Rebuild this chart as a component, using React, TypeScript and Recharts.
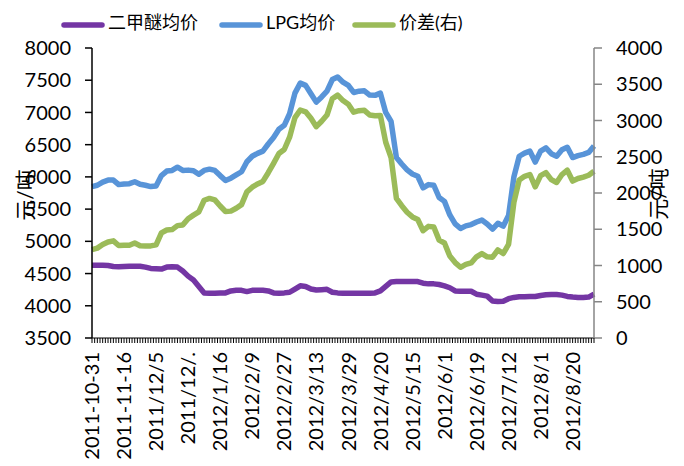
import { LineChart, Line, XAxis, YAxis } from 'recharts'

const tickLabels = [
  '2011-10-31', '2011-11-16', '2011/12/5', '2011/12/.', '2012/1/16', '2012/2/9',
  '2012/2/27', '2012/3/13', '2012/3/29', '2012/4/20', '2012/5/15', '2012/6/1',
  '2012/6/19', '2012/7/12', '2012/8/1', '2012/8/20',
]

// LPG均价, one point every two trading days
const lpgPrice = [
  5850, 5870, 5920, 5950, 5950, 5880, 5890, 5895, 5925, 5885,
  5870, 5850, 5860, 6020, 6090, 6100, 6150, 6100, 6105, 6095,
  6040, 6100, 6120, 6100, 6020, 5945, 5980, 6030, 6080, 6235,
  6320, 6365, 6400, 6510, 6610, 6740, 6800, 6980, 7300, 7455,
  7420, 7290, 7160, 7240, 7330, 7510, 7550, 7470, 7420, 7310,
  7330, 7335, 7270, 7265, 7300, 7000, 6860, 6300, 6200, 6110,
  6045, 6010, 5830, 5880, 5870, 5680, 5620, 5410, 5270, 5200,
  5240, 5260, 5300, 5330, 5270, 5190, 5280, 5235, 5400, 6000,
  6320, 6370, 6400, 6230, 6400, 6450, 6360, 6320, 6420, 6460,
  6300, 6330, 6350, 6380, 6480,
]

// 二甲醚均价
const dmePrice = [
  4630, 4630, 4630, 4625, 4610, 4605, 4610, 4615, 4615, 4612,
  4600, 4580, 4575, 4570, 4600, 4605, 4600, 4540, 4460, 4400,
  4300, 4200, 4195, 4195, 4200, 4200, 4230, 4240, 4240, 4220,
  4240, 4240, 4240, 4230, 4200, 4195, 4200, 4210, 4260, 4310,
  4300, 4260, 4245, 4250, 4255, 4210, 4200, 4195, 4195, 4195,
  4195, 4195, 4195, 4200, 4230, 4300, 4370, 4375, 4375, 4375,
  4375, 4375, 4350, 4340, 4340, 4330, 4310, 4280, 4230, 4225,
  4225, 4225, 4180, 4165, 4150, 4075, 4065, 4070, 4110, 4130,
  4140, 4140, 4145, 4145, 4160, 4170, 4175, 4175, 4165, 4145,
  4135, 4130, 4130, 4135, 4180,
]

const seriesNames = ['二甲醚均价', 'LPG均价', '价差(右)']
const seriesColors = ['#7436a4', '#5894d8', '#9bbb59']
const leftTicks = [3500, 4000, 4500, 5000, 5500, 6000, 6500, 7000, 7500, 8000]
const rightTicks = [0, 500, 1000, 1500, 2000, 2500, 3000, 3500, 4000]

const LABEL_EVERY = 6
const FONT = 'Lato, "Noto Sans CJK SC", sans-serif'

const data = lpgPrice.map((lpg, i) => ({
  i,
  lpg,
  dme: dmePrice[i],
  spread: lpg - dmePrice[i],
}))

// one small tick per trading day
const dayTicks = Array.from({ length: (lpgPrice.length - 1) * 2 + 1 }, (_, k) => k / 2)

function DateTick(props: any) {
  const { x, y, payload } = props
  const v = payload.value
  const label = v % LABEL_EVERY === 0 ? tickLabels[v / LABEL_EVERY] : null
  const ty = y + 14
  return (
    <g>
      <line x1={x} y1={y} x2={x} y2={y + 5} stroke="#000" strokeWidth={1} />
      {label && (
        <text
          x={x}
          y={ty}
          transform={`rotate(-90 ${x} ${ty})`}
          textAnchor="end"
          dy="0.36em"
          fontSize={20}
          fontFamily={FONT}
          fill="#000"
        >
          {label}
        </text>
      )}
    </g>
  )
}

export default function App() {
  const legendX = [62, 220, 353]
  return (
    <div style={{ position: 'absolute', left: 0, top: 0, width: 684, height: 466, background: '#fff' }}>
      <LineChart
        width={684}
        height={466}
        data={data}
        margin={{ top: 48, right: 0, bottom: 0, left: 0 }}
      >
        <XAxis
          dataKey="i"
          type="number"
          domain={[0, lpgPrice.length - 1]}
          ticks={dayTicks}
          interval={0}
          tick={DateTick}
          tickLine={false}
          tickSize={0}
          tickMargin={0}
          height={128}
          axisLine={{ stroke: '#000', strokeWidth: 1 }}
        />
        <YAxis
          yAxisId="left"
          domain={[3500, 8000]}
          ticks={leftTicks}
          interval={0}
          width={92}
          tickSize={7}
          tickMargin={14}
          axisLine={{ stroke: '#000', strokeWidth: 1.5 }}
          tickLine={{ stroke: '#000', strokeWidth: 1.5 }}
          tick={{ fill: '#000', fontSize: 20, fontFamily: FONT }}
        />
        <YAxis
          yAxisId="right"
          orientation="right"
          domain={[0, 4000]}
          ticks={rightTicks}
          interval={0}
          width={90}
          tickSize={8}
          tickMargin={14}
          axisLine={{ stroke: '#868686', strokeWidth: 1.5 }}
          tickLine={{ stroke: '#868686', strokeWidth: 1.5 }}
          tick={{ fill: '#000', fontSize: 20, fontFamily: FONT, textAnchor: 'start' }}
        />
        <Line yAxisId="left" type="linear" dataKey="dme" stroke={seriesColors[0]} strokeWidth={5.5} strokeLinejoin="round" dot={false} isAnimationActive={false} />
        <Line yAxisId="left" type="linear" dataKey="lpg" stroke={seriesColors[1]} strokeWidth={5.5} strokeLinejoin="round" dot={false} isAnimationActive={false} />
        <Line yAxisId="right" type="linear" dataKey="spread" stroke={seriesColors[2]} strokeWidth={5.5} strokeLinejoin="round" dot={false} isAnimationActive={false} />
      </LineChart>
      <svg width={684} height={466} style={{ position: 'absolute', left: 0, top: 0, pointerEvents: 'none' }}>
        {seriesNames.map((name, k) => (
          <g key={name}>
            <line x1={legendX[k] + 2} y1={25} x2={legendX[k] + 40} y2={25} stroke={seriesColors[k]} strokeWidth={5.5} strokeLinecap="round" />
            <text x={legendX[k] + 46} y={23} dy="0.36em" fontSize={18} fontFamily={FONT} fill="#000">
              {name}
            </text>
          </g>
        ))}
        <text x={25} y={195} transform="rotate(-90 25 195)" textAnchor="middle" dy="0.36em" fontSize={21} fontFamily={FONT} fill="#000">
          元/吨
        </text>
        <text x={658} y={194} transform="rotate(-90 658 194)" textAnchor="middle" dy="0.36em" fontSize={21} fontFamily={FONT} fill="#000">
          元/吨
        </text>
      </svg>
    </div>
  )
}
